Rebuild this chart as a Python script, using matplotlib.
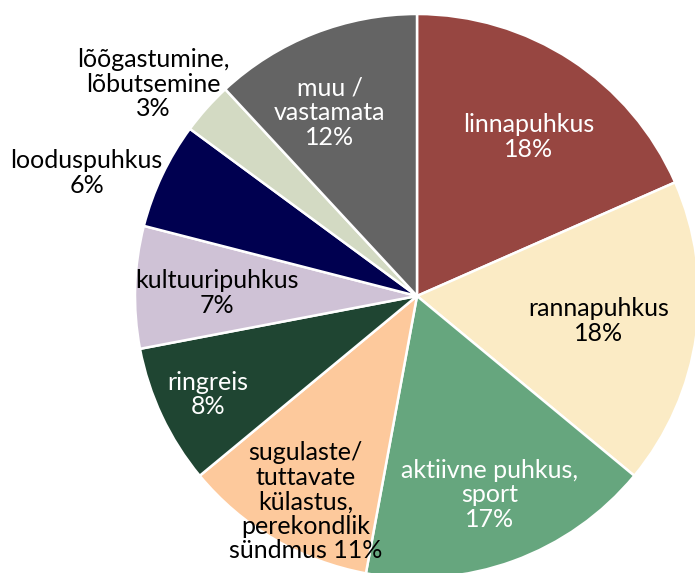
import numpy as np
import matplotlib
matplotlib.use('Agg')
import matplotlib.pyplot as plt

plt.rcParams['font.family'] = ['Lato', 'DejaVu Sans']

labels = ['linnapuhkus', 'rannapuhkus', 'aktiivne puhkus,\nsport',
          'sugulaste/\ntuttavate\nkülastus,\nperekondlik\nsündmus',
          'ringreis', 'kultuuripuhkus', 'looduspuhkus',
          'lõõgastumine,\nlõbutsemine', 'muu /\nvastamata']
shares = [18.4, 17.6, 16.9, 11.1, 8.0, 7.0, 6.1, 3.0, 11.9]
pct_text = ['18%', '18%', '17%', '11%', '8%', '7%', '6%', '3%', '12%']
colors = ['#974641', '#FBEBC5', '#66A67E', '#FDC99C', '#1F4532',
          '#CFC2D6', '#000050', '#D3DAC3', '#646464']
text_colors = ['white', 'black', 'white', 'black', 'white',
               'black', 'black', 'black', 'white']
label_dist = [0.69, 0.65, 0.75, 0.83, 0.82, 0.71, 1.25, 1.2, 0.72]
label_shift = [2, 0, 0, -2, 0, -1, -5, -3, -4]  # degrees

fig = plt.figure(figsize=(6.95, 5.73), dpi=100)
ax = fig.add_axes([0, 0, 1, 1])
cx, cy, r = 417, 296, 282

wedges, _ = ax.pie(shares, colors=colors, startangle=90, counterclock=False,
                   radius=1, wedgeprops=dict(edgecolor='white', linewidth=1.8))
ax.set_xlim(-cx / r, (695 - cx) / r)
ax.set_ylim(-(573 - cy) / r, cy / r)
ax.set_aspect('auto')
ax.axis('off')

cum = np.cumsum([0] + shares)
for i, lab in enumerate(labels):
    mid = (cum[i] + shares[i] / 2) / 100 * 360 + label_shift[i]
    ang = np.deg2rad(90 - mid)
    x = label_dist[i] * np.cos(ang)
    y = label_dist[i] * np.sin(ang)
    if i == 3:
        txt = lab + ' ' + pct_text[i]
    else:
        txt = lab + '\n' + pct_text[i]
    ax.text(x, y, txt, ha='center', va='center', fontsize=18,
            color=text_colors[i], linespacing=1.08)

fig.savefig('out.png', dpi=100)
